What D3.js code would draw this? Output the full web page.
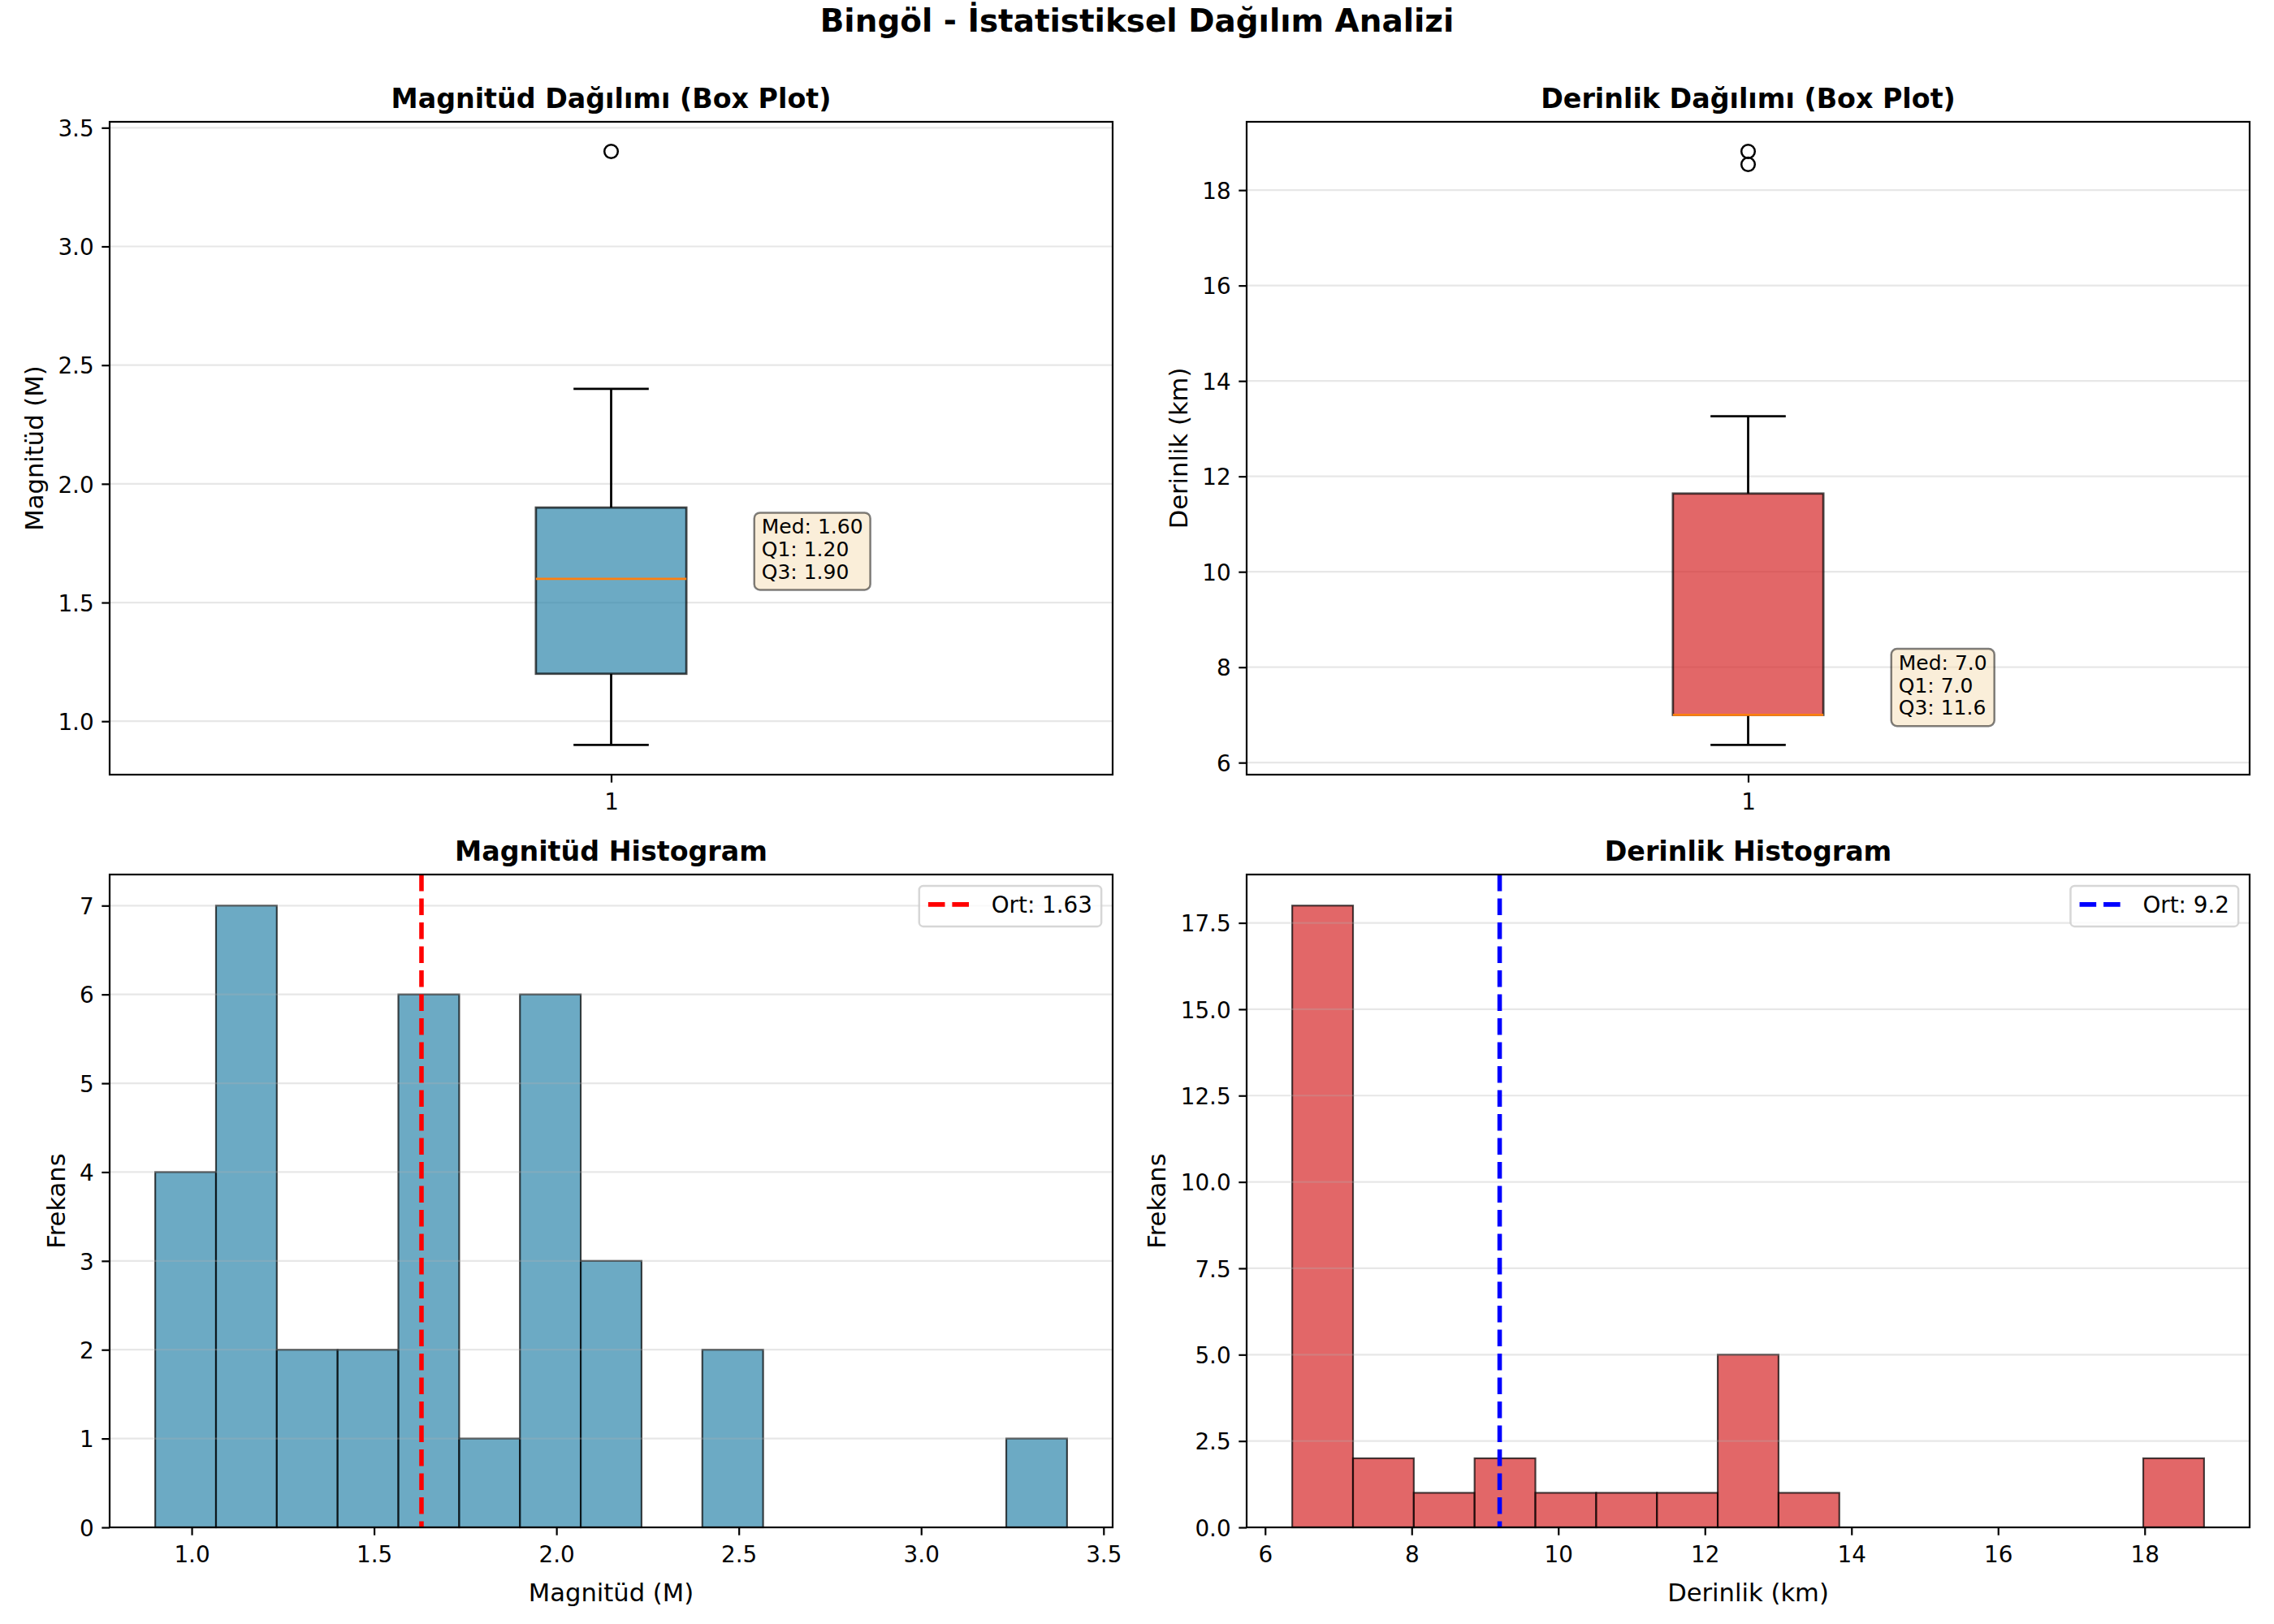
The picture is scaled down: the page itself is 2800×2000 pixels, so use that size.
<!DOCTYPE html>
<html>
<head>
<meta charset="utf-8">
<script src="https://cdn.jsdelivr.net/npm/d3@7"></script>
<style>
  body { margin: 0; background: #ffffff; }
  svg text { font-family: "DejaVu Sans", sans-serif; }
</style>
</head>
<body>
<div id="vis"></div>
<script>
// values
const MAG_COUNTS = [4, 7, 2, 2, 6, 1, 6, 3, 0, 2, 0, 0, 0, 0, 1];
const DEPTH_COUNTS = [18, 2, 1, 2, 1, 1, 1, 5, 1, 0, 0, 0, 0, 0, 2];
const MAG_RANGE = [0.9, 3.4];
const DEPTH_RANGE = [6.37, 18.81];
const MAG_MEAN = 1.63;
const DEPTH_MEAN = 9.2;

// whisker low, Q1, median, Q3, whisker high
const MAG_BOX = [0.9, 1.2, 1.6, 1.9, 2.4];
const DEPTH_BOX = [6.37, 7.0, 7.0, 11.64, 13.26];
const MAG_OUTLIERS = [3.4];
const DEPTH_OUTLIERS = [18.54, 18.81];

// tick labels
const MAG_BOX_TICKS = [1.0, 1.5, 2.0, 2.5, 3.0, 3.5];
const DEPTH_BOX_TICKS = [6, 8, 10, 12, 14, 16, 18];
const MAG_HIST_X_TICKS = [1.0, 1.5, 2.0, 2.5, 3.0, 3.5];
const MAG_HIST_Y_TICKS = [0, 1, 2, 3, 4, 5, 6, 7];
const DEPTH_HIST_X_TICKS = [6, 8, 10, 12, 14, 16, 18];
const DEPTH_HIST_Y_TICKS = [0, 2.5, 5, 7.5, 10, 12.5, 15, 17.5];

// set constants
const FRAME_WIDTH = 2800;
const FRAME_HEIGHT = 2000;
const COLS = [135, 1535];
const ROWS = [150, 1077];
const AX_W = 1235;
const AX_H = 804;

const TICK_FS = 27.8;
const LABEL_FS = 30.6;
const TITLE_FS = 33.3;
const NOTE_FS = 25;

const BLUE = "#2E86AB";
const RED = "#d62728";

const FRAME = d3.select("#vis")
  .append("svg")
    .attr("width", FRAME_WIDTH)
    .attr("height", FRAME_HEIGHT)
    .style("background", "#ffffff");

// Suptitle
FRAME.append("text")
  .attr("x", FRAME_WIDTH / 2)
  .attr("y", 39)
  .attr("text-anchor", "middle")
  .style("font-size", "38.9px")
  .style("font-weight", "bold")
  .text("Bingöl - İstatistiksel Dağılım Analizi");

function makePanel(col, row, title) {
  const g = FRAME.append("g")
    .attr("transform", "translate(" + COLS[col] + "," + ROWS[row] + ")");
  g.append("text")
    .attr("x", AX_W / 2)
    .attr("y", -17)
    .attr("text-anchor", "middle")
    .style("font-size", TITLE_FS + "px")
    .style("font-weight", "bold")
    .text(title);
  return g;
}

function drawGrid(g, y, ticks) {
  g.append("g")
    .selectAll("line")
    .data(ticks)
    .enter()
    .append("line")
      .attr("x1", 0)
      .attr("x2", AX_W)
      .attr("y1", (d) => y(d))
      .attr("y2", (d) => y(d))
      .attr("stroke", "#b0b0b0")
      .attr("stroke-opacity", 0.3)
      .attr("stroke-width", 2.2);
}

function drawAxes(g, x, y, xTicks, xFmt, yTicks, yFmt, xLabel, yLabel) {
  // spines
  g.append("rect")
    .attr("x", 0)
    .attr("y", 0)
    .attr("width", AX_W)
    .attr("height", AX_H)
    .attr("fill", "none")
    .attr("stroke", "#000")
    .attr("stroke-width", 2.2);

  const xAxis = g.append("g")
    .attr("transform", "translate(0," + AX_H + ")")
    .call(d3.axisBottom(x).tickValues(xTicks).tickFormat(xFmt)
      .tickSize(9.7).tickPadding(13.5));
  const yAxis = g.append("g")
    .call(d3.axisLeft(y).tickValues(yTicks).tickFormat(yFmt)
      .tickSize(9.7).tickPadding(9.7));

  [xAxis, yAxis].forEach((a) => {
    a.attr("font-family", null).attr("font-size", null).attr("color", "#000");
    a.select(".domain").remove();
    a.selectAll("line").attr("stroke-width", 2.2);
    a.selectAll("text").style("font-size", TICK_FS + "px");
  });
  yAxis.selectAll("text").attr("dy", "0.37em");

  // X label
  if (xLabel) {
    g.append("text")
      .attr("x", AX_W / 2)
      .attr("y", AX_H + 91)
      .attr("text-anchor", "middle")
      .style("font-size", LABEL_FS + "px")
      .text(xLabel);
  }

  // Y label, placed left of the widest tick label
  let minX = 0;
  yAxis.selectAll("text").each(function () {
    const b = this.getBBox();
    minX = Math.min(minX, b.x);
  });
  const lx = minX - 11 - 7.2;
  g.append("text")
    .attr("transform", "translate(" + lx + "," + (AX_H / 2) + ") rotate(-90)")
    .attr("text-anchor", "middle")
    .style("font-size", LABEL_FS + "px")
    .text(yLabel);
}

function boxPanel(col, row, title, stats, outliers, color, ticks, tickFmt, noteFmt, yLabel) {
  const g = makePanel(col, row, title);

  const lo = d3.min([stats[0]].concat(outliers));
  const hi = d3.max([stats[4]].concat(outliers));
  const pad = (hi - lo) * 0.05;

  const X_SCALE = d3.scaleLinear().domain([0.5, 1.5]).range([0, AX_W]);
  const Y_SCALE = d3.scaleLinear().domain([lo - pad, hi + pad]).range([AX_H, 0]);

  drawGrid(g, Y_SCALE, ticks);

  const cx = X_SCALE(1);
  const halfBox = X_SCALE(1.075) - cx;
  const halfCap = X_SCALE(1.0375) - cx;

  // whiskers
  g.selectAll(".whisker")
    .data([[stats[1], stats[0]], [stats[3], stats[4]]])
    .enter()
    .append("line")
      .attr("x1", cx).attr("x2", cx)
      .attr("y1", (d) => Y_SCALE(d[0]))
      .attr("y2", (d) => Y_SCALE(d[1]))
      .attr("stroke", "#000")
      .attr("stroke-width", 2.78);

  // caps
  g.selectAll(".cap")
    .data([stats[0], stats[4]])
    .enter()
    .append("line")
      .attr("x1", cx - halfCap).attr("x2", cx + halfCap)
      .attr("y1", (d) => Y_SCALE(d))
      .attr("y2", (d) => Y_SCALE(d))
      .attr("stroke", "#000")
      .attr("stroke-width", 2.78);

  // box
  g.append("rect")
    .attr("x", cx - halfBox)
    .attr("y", Y_SCALE(stats[3]))
    .attr("width", halfBox * 2)
    .attr("height", Y_SCALE(stats[1]) - Y_SCALE(stats[3]))
    .attr("fill", color)
    .attr("fill-opacity", 0.7)
    .attr("stroke", "#000")
    .attr("stroke-opacity", 0.7)
    .attr("stroke-width", 2.78);

  // median
  g.append("line")
    .attr("x1", cx - halfBox).attr("x2", cx + halfBox)
    .attr("y1", Y_SCALE(stats[2])).attr("y2", Y_SCALE(stats[2]))
    .attr("stroke", "#ff7f0e")
    .attr("stroke-width", 2.78);

  // outliers
  g.selectAll(".flier")
    .data(outliers)
    .enter()
    .append("circle")
      .attr("cx", cx)
      .attr("cy", (d) => Y_SCALE(d))
      .attr("r", 8.3)
      .attr("fill", "none")
      .attr("stroke", "#000")
      .attr("stroke-width", 2.5);

  // stats note
  const lines = ["Med: " + noteFmt(stats[2]), "Q1: " + noteFmt(stats[1]), "Q3: " + noteFmt(stats[3])];
  const tx = X_SCALE(1.15);
  const lastBase = Y_SCALE(stats[2]);
  const note = g.append("g");
  const bg = note.append("rect");
  let w = 0;
  lines.forEach((t, i) => {
    const el = note.append("text")
      .attr("x", tx)
      .attr("y", lastBase - (lines.length - 1 - i) * 27.7)
      .style("font-size", NOTE_FS + "px")
      .text(t);
    w = Math.max(w, el.node().getComputedTextLength());
  });
  bg.attr("x", tx - 9)
    .attr("y", lastBase - 2 * 27.7 - 26)
    .attr("width", w + 18)
    .attr("height", 2 * 27.7 + 26 + 13.7)
    .attr("rx", 7)
    .attr("fill", "#f5deb3")
    .attr("fill-opacity", 0.5)
    .attr("stroke", "#000")
    .attr("stroke-opacity", 0.5)
    .attr("stroke-width", 2.5);

  drawAxes(g, X_SCALE, Y_SCALE, [1], d3.format("d"), ticks, tickFmt, null, yLabel);
}

function histPanel(col, row, title, counts, range, mean, color, lineColor, meanFmt,
                   xTicks, xFmt, yTicks, yFmt, xLabel) {
  const g = makePanel(col, row, title);

  const pad = (range[1] - range[0]) * 0.05;
  const X_SCALE = d3.scaleLinear().domain([range[0] - pad, range[1] + pad]).range([0, AX_W]);
  const Y_SCALE = d3.scaleLinear().domain([0, d3.max(counts) * 1.05]).range([AX_H, 0]);

  const n = counts.length;
  const step = (range[1] - range[0]) / n;
  const bins = counts.map((c, i) => ({x0: range[0] + i * step, x1: range[0] + (i + 1) * step, c: c}))
    .filter((d) => d.c > 0);

  // Bars
  g.append("g")
    .selectAll("rect")
    .data(bins)
    .enter()
    .append("rect")
      .attr("x", (d) => X_SCALE(d.x0))
      .attr("y", (d) => Y_SCALE(d.c))
      .attr("width", (d) => X_SCALE(d.x1) - X_SCALE(d.x0))
      .attr("height", (d) => AX_H - Y_SCALE(d.c))
      .attr("fill", color)
      .attr("fill-opacity", 0.7)
      .attr("stroke", "#000")
      .attr("stroke-opacity", 0.7)
      .attr("stroke-width", 2.2);

  drawGrid(g, Y_SCALE, yTicks);

  // mean line
  g.append("line")
    .attr("x1", X_SCALE(mean)).attr("x2", X_SCALE(mean))
    .attr("y1", 0).attr("y2", AX_H)
    .attr("stroke", lineColor)
    .attr("stroke-width", 5.56)
    .attr("stroke-dasharray", "20.6,8.9");

  drawAxes(g, X_SCALE, Y_SCALE, xTicks, xFmt, yTicks, yFmt, xLabel, "Frekans");

  // Legend
  const leg = g.append("g");
  const frame = leg.append("rect");
  const label = leg.append("text")
    .style("font-size", TICK_FS + "px")
    .text("Ort: " + meanFmt(mean));
  const tw = label.node().getComputedTextLength();
  const lw = 11.1 + 55.6 + 22.2 + tw + 11.1;
  const lx = AX_W - 13.9 - lw;
  const ly = 13.9;
  frame.attr("x", lx).attr("y", ly)
    .attr("width", lw).attr("height", 50)
    .attr("rx", 5)
    .attr("fill", "#fff")
    .attr("fill-opacity", 0.8)
    .attr("stroke", "#cccccc")
    .attr("stroke-opacity", 0.8)
    .attr("stroke-width", 2.5);
  leg.append("line")
    .attr("x1", lx + 11.1).attr("x2", lx + 11.1 + 55.6)
    .attr("y1", ly + 23).attr("y2", ly + 23)
    .attr("stroke", lineColor)
    .attr("stroke-width", 5.56)
    .attr("stroke-dasharray", "20.6,8.9");
  label.attr("x", lx + 11.1 + 55.6 + 22.2).attr("y", ly + 33);
}

boxPanel(0, 0, "Magnitüd Dağılımı (Box Plot)", MAG_BOX, MAG_OUTLIERS, BLUE,
  MAG_BOX_TICKS, d3.format(".1f"), d3.format(".2f"), "Magnitüd (M)");
boxPanel(1, 0, "Derinlik Dağılımı (Box Plot)", DEPTH_BOX, DEPTH_OUTLIERS, RED,
  DEPTH_BOX_TICKS, d3.format("d"), d3.format(".1f"), "Derinlik (km)");

histPanel(0, 1, "Magnitüd Histogram", MAG_COUNTS, MAG_RANGE, MAG_MEAN, BLUE, "#ff0000",
  d3.format(".2f"), MAG_HIST_X_TICKS, d3.format(".1f"), MAG_HIST_Y_TICKS, d3.format("d"),
  "Magnitüd (M)");
histPanel(1, 1, "Derinlik Histogram", DEPTH_COUNTS, DEPTH_RANGE, DEPTH_MEAN, RED, "#0000ff",
  d3.format(".1f"), DEPTH_HIST_X_TICKS, d3.format("d"), DEPTH_HIST_Y_TICKS, d3.format(".1f"),
  "Derinlik (km)");
</script>
</body>
</html>
